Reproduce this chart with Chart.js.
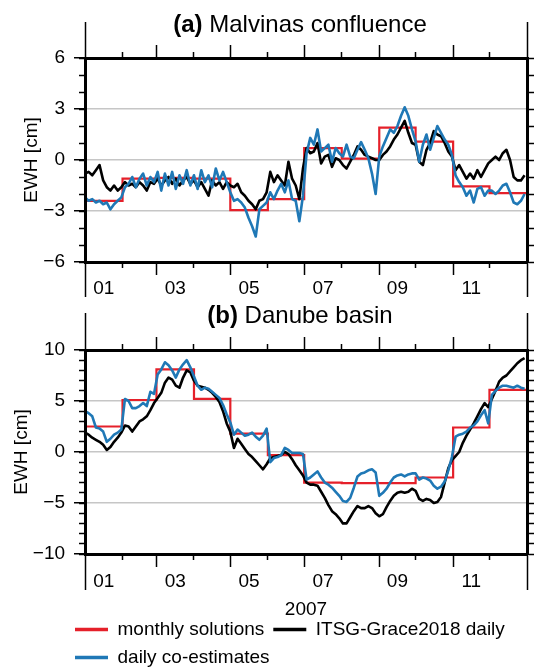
<!DOCTYPE html>
<html><head><meta charset="utf-8">
<script src="https://cdn.jsdelivr.net/npm/chart.js@4.4.1/dist/chart.umd.min.js"></script>
<style>
html,body{margin:0;padding:0;background:#fff;overflow:hidden;width:534px;height:670px;}
.wrap{position:relative;width:534px;height:670px;overflow:hidden;}
canvas{position:absolute;left:0;}
.ttl{position:absolute;left:66px;width:468px;text-align:center;font-family:"Liberation Sans",Arial,Helvetica,sans-serif;font-size:24px;line-height:24px;color:#000;white-space:nowrap;}
</style></head><body>
<div class="wrap">
<canvas id="ca" width="534" height="300" style="top:0;width:534px;height:300px"></canvas>
<canvas id="cb" width="534" height="377" style="top:300px;width:534px;height:377px"></canvas>
<div class="ttl" style="top:12px"><b>(a)</b> Malvinas confluence</div>
<div class="ttl" style="top:303px"><b>(b)</b> Danube basin</div>
</div>
<script>
// ---------------- data ----------------
const days = [0,3,6,9,12,15,18,21,24,27,30,
  33,36,39,42,45,48,51,54,57,
  60,63,66,69,72,75,78,81,84,87,
  90,93,96,99,102,105,108,111,114,117,
  120,123,126,129,132,135,138,141,144,147,150,
  153,156,159,162,165,168,171,174,177,180,
  183,186,189,192,195,198,201,204,207,210,
  213,216,219,222,225,228,231,234,237,240,
  243,246,249,252,255,258,261,264,267,270,
  273,276,279,282,285,288,291,294,297,300,303,
  306,309,312,315,318,321,324,327,330,333,
  336,339,342,345,348,351,354,357,360,363];
const monthStarts = [0,31,59,90,120,151,181,212,243,273,304,334,365];
const monthLabels = ['01','03','05','07','09','11'];
const labelDays = [15.5,74.5,135.5,196.5,258,319];
const majorTickDays = [59,120,181,243,304];
const minorTickDays = [31,90,151,212,273,334];
const yearTickDays = [0,365];
const xTitleB = '2007';
const seriesNames = ['monthly solutions','ITSG-Grace2018 daily','daily co-estimates'];

// (a) Malvinas confluence
const malvMonthly = [-2.4,-1.1,-1.05,-1.1,-2.95,-2.3,0.7,0.08,1.9,1.08,-1.55,-1.95];
const malvItsg = [
  -0.8,-0.7,-0.9,-0.6,-0.3,-1.2,-1.6,-1.8,-1.5,-1.8,-1.6,
  -1.3,-1.5,-1.4,-1.6,-1.3,-1.5,-1.8,-1.3,-1.4,
  -1.1,-1.5,-1.2,-1.0,-1.4,-1.1,-1.5,-1.2,-1.0,-1.4,
  -1.2,-1.6,-1.3,-1.7,-2.1,-1.2,-1.5,-1.3,-1.7,-1.3,
  -1.5,-1.6,-1.4,-1.9,-2.1,-2.4,-2.6,-2.9,-2.4,-2.3,-1.9,
  -0.7,-1.3,-0.9,-1.2,-1.5,-0.1,-1.1,-1.5,-2.3,-0.5,
  0.7,0.4,0.5,1.0,-0.2,0.2,0.3,-0.4,0.1,0.0,
  -0.3,-0.5,-0.1,0.3,0.8,0.6,0.3,0.2,0.1,0.0,
  0.0,0.3,0.5,0.8,1.2,1.5,1.9,2.3,1.6,1.0,
  0.9,-0.1,-0.3,0.6,1.0,1.7,1.5,1.4,1.0,0.5,0.2,
  -0.6,-0.3,-0.7,-1.1,-0.8,-1.1,-0.6,-1.0,-0.6,-0.2,
  0.0,0.2,0.0,0.4,0.6,0.0,-1.0,-1.2,-1.2,-0.9];
const malvDaily = [
  -2.2,-2.4,-2.3,-2.5,-2.4,-2.6,-2.5,-2.9,-2.6,-2.4,-2.2,
  -1.6,-1.4,-1.0,-1.6,-1.1,-0.8,-1.5,-1.0,-1.3,
  -0.7,-1.8,-0.8,-1.5,-0.7,-1.7,-0.9,-1.4,-0.6,-1.5,
  -0.9,-1.7,-0.6,-1.3,-0.9,-1.6,-0.5,-1.2,-0.7,-1.3,
  -1.9,-2.4,-2.3,-2.5,-2.8,-3.4,-3.9,-4.5,-2.9,-2.7,-2.5,
  -1.9,-2.3,-1.8,-1.4,-1.9,-1.2,-2.3,-2.4,-3.6,-2.1,
  0.4,1.3,0.9,1.8,0.5,0.7,0.9,-0.1,0.7,0.4,
  0.2,0.9,0.2,0.1,0.6,1.05,0.6,0.1,-0.8,-2.0,
  0.2,0.8,1.3,1.8,1.6,2.0,2.6,3.1,2.6,1.8,
  1.1,-0.1,0.9,1.5,0.6,1.3,2.0,1.6,1.2,0.9,0.3,
  -0.9,-1.3,-1.6,-2.1,-1.8,-2.5,-1.7,-1.6,-2.1,-1.8,
  -1.8,-2.0,-1.8,-1.5,-1.4,-1.9,-2.5,-2.6,-2.4,-2.0];

// (b) Danube basin
const danMonthly = [2.5,5.1,8.1,5.2,1.8,-0.3,-3.0,-3.05,-3.05,-2.5,2.4,6.1];
const danItsg = [
  1.9,1.7,1.4,1.2,1.0,0.7,0.2,0.5,1.0,1.4,1.9,
  2.6,2.5,2.0,2.5,3.0,3.2,3.5,4.1,4.8,
  5.3,5.8,6.8,7.3,7.1,6.5,6.3,7.3,8.0,7.8,
  7.0,6.5,6.4,6.3,6.1,5.8,5.4,4.9,4.0,2.8,
  2.0,0.4,1.3,0.8,0.3,-0.2,-0.5,-0.9,-1.3,-1.7,-1.2,
  -0.6,-0.5,-0.4,-0.3,0.0,-0.2,-0.7,-1.3,-1.8,-2.3,
  -3.0,-3.2,-3.2,-3.3,-3.9,-4.5,-5.2,-5.8,-6.1,-6.5,
  -7.0,-7.0,-6.4,-5.8,-5.3,-5.5,-5.5,-5.3,-5.5,-6.0,
  -6.3,-6.1,-5.4,-4.8,-4.3,-4.0,-3.9,-4.0,-3.9,-3.6,
  -3.8,-4.6,-4.8,-4.6,-4.7,-5.0,-4.9,-4.4,-3.0,-1.6,-0.8,
  -0.4,0.0,0.9,1.6,2.2,2.8,3.5,4.2,4.8,4.4,
  5.2,6.0,6.9,7.3,7.5,7.9,8.3,8.7,9.0,9.2];
const danDaily = [
  4.0,3.8,3.5,2.4,2.3,2.0,1.0,1.3,1.7,1.9,2.2,
  5.2,5.0,4.3,4.3,4.5,4.8,4.5,5.9,5.7,
  7.6,8.1,8.8,8.5,8.0,7.3,8.1,8.6,9.0,8.3,
  7.4,6.5,6.1,6.3,6.2,5.9,5.6,5.3,4.6,3.7,
  2.9,1.7,2.2,1.9,1.6,1.7,1.9,1.5,1.2,1.6,2.3,
  -1.0,-0.6,-0.5,-0.3,0.4,0.2,-0.1,-0.1,-0.1,-0.2,
  -2.7,-2.5,-2.2,-1.9,-2.5,-3.0,-3.2,-3.5,-3.9,-4.3,
  -4.8,-4.9,-4.5,-3.5,-2.4,-2.1,-2.0,-1.8,-1.7,-2.0,
  -4.3,-4.0,-3.6,-3.0,-2.5,-2.3,-2.2,-2.4,-2.2,-2.1,
  -2.1,-2.7,-2.5,-2.6,-2.8,-3.3,-3.6,-3.4,-2.9,-1.8,-0.5,
  1.5,1.7,1.8,2.0,2.4,2.6,3.0,3.6,4.1,2.8,
  5.6,6.0,6.3,6.5,6.5,6.4,6.3,6.5,6.3,6.2];

const yMajorA = [-6,-3,0,3,6];
const yMinorA = [-6,-5,-4,-3,-2,-1,0,1,2,3,4,5,6];
const yMajorB = [-10,-5,0,5,10];
const yMinorB = [-10,-9,-8,-7,-6,-5,-4,-3,-2,-1,0,1,2,3,4,5,6,7,8,9,10];

// ---------------- styling / helpers ----------------
const RED = '#e5202a', BLUE = '#1f78b6', BLACK = '#000000', GRID = '#c6c6c6';
Chart.defaults.font.family = '"Liberation Sans", Arial, Helvetica, sans-serif';
Chart.defaults.font.size = 19;
Chart.defaults.color = '#000';

const setTicks = arr => scale => { scale.ticks = arr.map(v => ({value: v})); };
const fmt = v => (v < 0 ? '\u2212' + Math.abs(v) : String(v));

function tickOnlyX(posY, arr, len) {
  return {type:'linear', axis:'x', min:0, max:365, position:{y:posY},
    afterBuildTicks:setTicks(arr), ticks:{display:false}, border:{display:false},
    grid:{display:true, drawOnChartArea:false, drawTicks:true, tickLength:len, tickColor:BLACK, tickWidth:1.5}};
}

function buildScales(p) {
  const s = {
    x: {type:'linear', axis:'x', min:0, max:365, position:'bottom',
      afterBuildTicks:setTicks(labelDays), afterFit:sc => { sc.height = p.bottomH; },
      ticks:{autoSkip:false, maxRotation:0, minRotation:0, padding:p.labelPad, font:{size:19}, color:'#000',
        callback:(v, i) => monthLabels[i]},
      grid:{display:true, drawOnChartArea:false, drawTicks:false},
      border:{display:true, width:3, color:BLACK, z:1},
      title: p.xTitle ? {display:true, text:p.xTitle, font:{size:19}, color:'#000', padding:{top:0, bottom:p.xTitlePad}} : {display:false}},
    xTop: {type:'linear', axis:'x', min:0, max:365, position:'top',
      afterBuildTicks:setTicks(majorTickDays), afterFit:sc => { sc.height = p.topH; },
      ticks:{display:false},
      grid:{display:true, drawOnChartArea:false, drawTicks:true, tickLength:13, tickColor:BLACK, tickWidth:1.5},
      border:{display:true, width:3, color:BLACK, z:1}},
    xTopMin: tickOnlyX(p.ymax, minorTickDays, -6),
    xTopYear: tickOnlyX(p.ymax, yearTickDays, -p.yearTop),
    xBotMaj: tickOnlyX(p.ymin, majorTickDays, 13),
    xBotMin: tickOnlyX(p.ymin, minorTickDays, 6),
    xBotYear: tickOnlyX(p.ymin, yearTickDays, p.yearBot),
    y: {type:'linear', axis:'y', min:p.ymin, max:p.ymax, position:'left',
      afterBuildTicks:setTicks(p.majors), afterFit:sc => { sc.width = p.yWidth; },
      ticks:{display:!p.labX, padding:9, font:{size:19}, color:'#000', callback:v => fmt(v)},
      grid:{display:true, drawOnChartArea:true, lineWidth:1.5,
        color:c => (c.tick && c.tick.value > p.ymin && c.tick.value < p.ymax) ? GRID : 'rgba(0,0,0,0)',
        drawTicks:true, tickLength:11, tickColor:BLACK, tickWidth:1.5},
      border:{display:true, width:3, color:BLACK, z:1},
      title:{display:true, text:'EWH [cm]', font:{size:19}, color:'#000', padding:{top:p.yTitlePad, bottom:0}}},
    yMin: {type:'linear', axis:'y', min:p.ymin, max:p.ymax, position:{x:0},
      afterBuildTicks:setTicks(p.minors), ticks:{display:false}, border:{display:false},
      grid:{display:true, drawOnChartArea:false, drawTicks:true, tickLength:6, tickColor:BLACK, tickWidth:1.5}},
    yR: {type:'linear', axis:'y', min:p.ymin, max:p.ymax, position:'right',
      afterBuildTicks:setTicks(p.minors), afterFit:sc => { sc.width = 7; },
      ticks:{display:false},
      grid:{display:true, drawOnChartArea:false, drawTicks:true, tickLength:7, tickColor:BLACK, tickWidth:1.5},
      border:{display:true, width:3, color:BLACK, z:1}}
  };
  if (p.labX) {
    // tick labels for the left axis, placed 20px left of the frame (value in day units)
    s.yLab = {type:'linear', axis:'y', min:p.ymin, max:p.ymax, position:{x:p.labX},
      afterBuildTicks:setTicks(p.majors),
      ticks:{display:true, padding:0, autoSkip:false, font:{size:19}, color:'#000', callback:v => fmt(v)},
      grid:{display:false, drawOnChartArea:false, drawTicks:false}, border:{display:false}};
  }
  return s;
}

function buildDatasets(monthly, itsg, daily) {
  return [
    {label:seriesNames[0], data:monthStarts.map((d, i) => ({x:d, y:monthly[Math.min(i, monthly.length - 1)]})),
      borderColor:RED, backgroundColor:RED, borderWidth:2.2, stepped:true, pointRadius:0, order:2, xAxisID:'x', yAxisID:'y'},
    {label:seriesNames[1], data:days.map((d, i) => ({x:d, y:itsg[i]})),
      borderColor:BLACK, backgroundColor:BLACK, borderWidth:2.6, pointRadius:0, order:1, borderJoinStyle:'round', xAxisID:'x', yAxisID:'y'},
    {label:seriesNames[2], data:days.map((d, i) => ({x:d, y:daily[i]})),
      borderColor:BLUE, backgroundColor:BLUE, borderWidth:2.6, pointRadius:0, order:0, borderJoinStyle:'round', xAxisID:'x', yAxisID:'y'}
  ];
}

const common = {responsive:false, animation:false, devicePixelRatio:1, events:[]};

new Chart(document.getElementById('ca'), {
  type:'line',
  data:{datasets:buildDatasets(malvMonthly, malvItsg, malvDaily)},
  options:Object.assign({}, common, {
    layout:{padding:{left:0, right:0, top:0, bottom:0}},
    plugins:{legend:{display:false}, tooltip:{enabled:false}, title:{display:false}},
    scales:buildScales({ymin:-6, ymax:6, majors:yMajorA, minors:yMinorA, yWidth:85, yTitlePad:20.6,
      topH:58, bottomH:38, labelPad:15, xTitle:null, yearTop:36, yearBot:35, labX:null})
  })
});

new Chart(document.getElementById('cb'), {
  type:'line',
  data:{datasets:buildDatasets(danMonthly, danItsg, danDaily)},
  options:Object.assign({}, common, {
    layout:{padding:{left:66, right:0, top:0, bottom:0}},
    plugins:{
      tooltip:{enabled:false}, title:{display:false},
      legend:{display:true, position:'bottom', align:'start', fullSize:true,
        labels:{usePointStyle:true, pointStyle:'line', pointStyleWidth:33, boxHeight:19, padding:9,
          font:{size:19}, color:'#000',
          generateLabels:chart => {
            const items = Chart.defaults.plugins.legend.labels.generateLabels(chart);
            items.forEach(it => { it.lineWidth = 3.5; it.pointStyle = 'line'; });
            return items;
          },
          sort:(a, b) => a.datasetIndex - b.datasetIndex}}
    },
    scales:buildScales({ymin:-10, ymax:10, majors:yMajorB, minors:yMinorB, yWidth:19, yTitlePad:-55.4,
      topH:50, bottomH:57, labelPad:16, xTitle:xTitleB, xTitlePad:-10.4, yearTop:37, yearBot:36, labX:-16.5})
  })
});
</script>
</body></html>
